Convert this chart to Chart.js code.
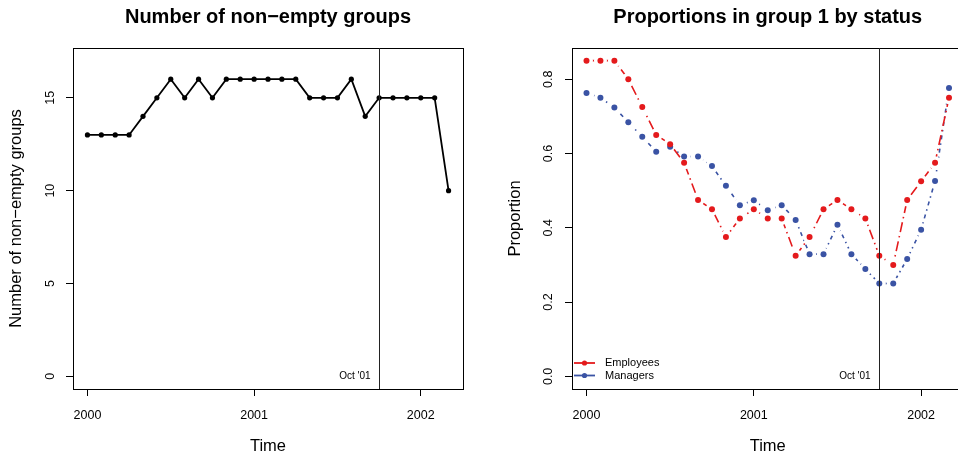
<!DOCTYPE html>
<html>
<head>
<meta charset="utf-8">
<script src="https://cdn.jsdelivr.net/npm/chart.js@4/dist/chart.umd.min.js"></script>
<style>
  html, body { margin: 0; padding: 0; background: #fff; overflow: hidden; }
  #left { position: absolute; left: 0; top: 0; }
  #right { position: absolute; left: 480px; top: 0; }
</style>
</head>
<body>
<canvas id="left" width="480" height="458"></canvas>
<canvas id="right" width="490" height="458"></canvas>
<script>
// monthly observations
var months = ["2000-01", "2000-02", "2000-03", "2000-04", "2000-05", "2000-06",
              "2000-07", "2000-08", "2000-09", "2000-10", "2000-11", "2000-12",
              "2001-01", "2001-02", "2001-03", "2001-04", "2001-05", "2001-06",
              "2001-07", "2001-08", "2001-09", "2001-10", "2001-11", "2001-12",
              "2002-01", "2002-02", "2002-03"];
var groups = [13, 13, 13, 13, 14, 15, 16, 15, 16, 15, 16, 16, 16, 16, 16, 16,
              15, 15, 15, 16, 14, 15, 15, 15, 15, 15, 10];
var employees = [0.85, 0.85, 0.85, 0.80, 0.725, 0.65, 0.625, 0.575, 0.475, 0.45,
                 0.375, 0.425, 0.45, 0.425, 0.425, 0.325, 0.375, 0.45, 0.475, 0.45,
                 0.425, 0.325, 0.30, 0.475, 0.525, 0.575, 0.75];
var managers = [0.763, 0.75, 0.724, 0.684, 0.645, 0.605, 0.618, 0.592, 0.592, 0.566,
                0.513, 0.461, 0.474, 0.447, 0.461, 0.421, 0.329, 0.329, 0.408, 0.329,
                0.289, 0.25, 0.25, 0.316, 0.395, 0.526, 0.776];

var xTicks = [2000, 2001, 2002];
var groupTicks = [0, 5, 10, 15];
var propTicks = [0, 0.2, 0.4, 0.6, 0.8];
var propLabels = ["0.0", "0.2", "0.4", "0.6", "0.8"];
var marker = "2001-10";
var markerLabel = "Oct '01";

var RED = "#E41A1C";
var BLUE = "#3A53A4";
var FONT = "'Liberation Sans', Arial, Helvetica, sans-serif";

function toYear(m) {
    var p = m.split("-");
    return +p[0] + (+p[1] - 1) / 12;
}
function pts(vals) {
    return vals.map(function(v, i) { return { x: toYear(months[i]), y: v }; });
}

var t0 = toYear(months[0]), t1 = toYear(months[months.length - 1]);
var xPad = (t1 - t0) * 0.04;

function fixedTicks(list) {
    return function(scale) {
        scale.ticks = list.map(function(v) { return { value: v }; });
    };
}

function xScale() {
    return {
        type: "linear",
        min: t0 - xPad,
        max: t1 + xPad,
        afterFit: function(s) {
            s.height = 69;
            s.paddingLeft = 0;
            s.paddingRight = 0;
        },
        afterBuildTicks: fixedTicks(xTicks),
        ticks: { color: "#000", font: { family: FONT, size: 12.5 }, padding: 12,
                 maxRotation: 0, autoSkip: false, callback: function(v) { return String(v); } },
        grid: { drawOnChartArea: false, tickLength: 7, color: "#000" },
        border: { display: false },
        title: { display: true, text: "Time", color: "#000",
                 font: { family: FONT, size: 16.5 }, padding: { top: 0, bottom: 2 } }
    };
}

// title, box, marker line (and legend on the right panel)
function frame(title, legend) {
    return {
        id: "frame",
        afterDraw: function(chart) {
            var ctx = chart.ctx, a = chart.chartArea;
            var xs = chart.scales.x, ys = chart.scales.y;
            ctx.save();
            ctx.strokeStyle = "#000";
            ctx.lineWidth = 1;
            ctx.strokeRect(Math.round(a.left) + 0.5, Math.round(a.top) + 0.5,
                           Math.round(a.right - a.left), Math.round(a.bottom - a.top));
            var mx = Math.round(xs.getPixelForValue(toYear(marker))) + 0.5;
            ctx.strokeStyle = "#222";
            ctx.beginPath();
            ctx.moveTo(mx, a.top);
            ctx.lineTo(mx, a.bottom);
            ctx.stroke();
            ctx.fillStyle = "#000";
            ctx.font = "10px " + FONT;
            ctx.textAlign = "right";
            ctx.textBaseline = "middle";
            ctx.fillText(markerLabel, mx - 9, ys.getPixelForValue(0));
            ctx.font = "bold 20px " + FONT;
            ctx.textAlign = "center";
            ctx.textBaseline = "alphabetic";
            ctx.fillText(title, (a.left + a.right) / 2, 23);
            if (legend) {
                ctx.font = "11px " + FONT;
                ctx.textAlign = "left";
                ctx.textBaseline = "middle";
                legend.forEach(function(it, i) {
                    var y = a.bottom - 26 + i * 12.5;
                    ctx.strokeStyle = it.color;
                    ctx.lineWidth = 1.8;
                    ctx.beginPath();
                    ctx.moveTo(a.left + 2, y);
                    ctx.lineTo(a.left + 23, y);
                    ctx.stroke();
                    ctx.fillStyle = it.color;
                    ctx.beginPath();
                    ctx.arc(a.left + 12.5, y, 2.6, 0, Math.PI * 2);
                    ctx.fill();
                    ctx.fillStyle = "#000";
                    ctx.fillText(it.label, a.left + 33, y);
                });
            }
            ctx.restore();
        }
    };
}

new Chart(document.getElementById("left").getContext("2d"), {
    type: "line",
    data: {
        datasets: [{
            data: pts(groups),
            borderColor: "#000",
            borderWidth: 1.8,
            pointRadius: 2.6,
            pointBackgroundColor: "#000",
            pointBorderWidth: 0,
            tension: 0
        }]
    },
    options: {
        responsive: false,
        animation: false,
        layout: { padding: { left: 0, right: 17, top: 48, bottom: 0 } },
        plugins: { legend: { display: false }, tooltip: { enabled: false } },
        scales: {
            x: xScale(),
            y: {
                min: -0.68,
                max: 17.68,
                afterFit: function(s) { s.width = 73; },
                afterBuildTicks: fixedTicks(groupTicks),
                ticks: { color: "#000", font: { family: FONT, size: 12.5 }, padding: 9,
                         minRotation: 90, maxRotation: 90, crossAlign: "center" },
                grid: { drawOnChartArea: false, tickLength: 7, color: "#000" },
                border: { display: false },
                title: { display: true, text: "Number of non\u2212empty groups", color: "#000",
                         font: { family: FONT, size: 16.5 }, padding: { top: 6.5, bottom: 0 } }
            }
        }
    },
    plugins: [frame("Number of non\u2212empty groups")]
});

// type "b" look: white halo points break the line around each marker
function lineSet(vals, color, dash) {
    return {
        data: pts(vals),
        borderColor: color,
        borderWidth: 1.6,
        borderDash: dash,
        pointRadius: 6.5,
        pointBackgroundColor: "#fff",
        pointBorderWidth: 0,
        tension: 0,
        order: 2
    };
}
function pointSet(vals, color) {
    return {
        data: pts(vals),
        showLine: false,
        pointRadius: 3,
        pointBackgroundColor: color,
        pointBorderWidth: 0,
        order: 1
    };
}

new Chart(document.getElementById("right").getContext("2d"), {
    type: "line",
    data: {
        datasets: [
            lineSet(employees, RED, [10, 4, 1.5, 4]),
            lineSet(managers, BLUE, [4, 4, 1.5, 4]),
            pointSet(employees, RED),
            pointSet(managers, BLUE)
        ]
    },
    options: {
        responsive: false,
        animation: false,
        layout: { padding: { left: 0, right: 2.5, top: 48, bottom: 0 } },
        plugins: { legend: { display: false }, tooltip: { enabled: false } },
        scales: {
            x: xScale(),
            y: {
                min: -0.034,
                max: 0.884,
                afterFit: function(s) { s.width = 92; },
                afterBuildTicks: fixedTicks(propTicks),
                ticks: { color: "#000", font: { family: FONT, size: 12.5 }, padding: 8,
                         minRotation: 90, maxRotation: 90, crossAlign: "center",
                         callback: function(v) { return propLabels[propTicks.indexOf(v)]; } },
                grid: { drawOnChartArea: false, tickLength: 7, color: "#000" },
                border: { display: false },
                title: { display: true, text: "Proportion", color: "#000",
                         font: { family: FONT, size: 16.5 }, padding: { top: 25.5, bottom: 0 } }
            }
        }
    },
    plugins: [frame("Proportions in group 1 by status",
                    [{ label: "Employees", color: RED }, { label: "Managers", color: BLUE }])]
});
</script>
</body>
</html>
